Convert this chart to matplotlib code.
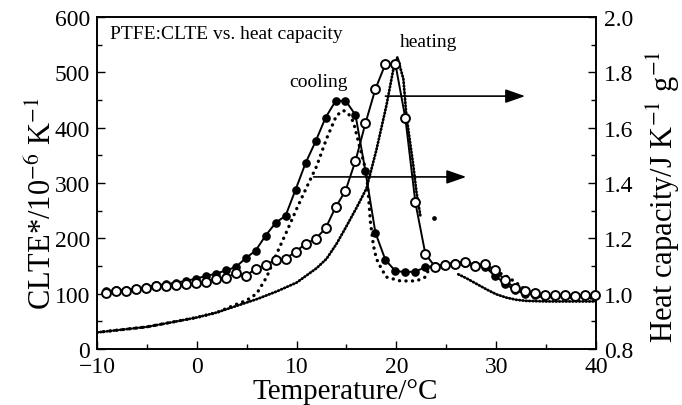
import matplotlib
matplotlib.use("Agg")
import matplotlib.pyplot as plt
import numpy as np

plt.rcParams["font.family"] = ["Liberation Serif", "DejaVu Serif"]
plt.rcParams["mathtext.fontset"] = "stix"

# ---- CLTE* (10^-6 K^-1), dilatometer points ----
temp_cool = [-9.1, -8.1, -7.1, -6.1, -5.1, -4.1, -3.1, -2.1, -1.1, -0.1,
             0.9, 1.9, 2.9, 3.9, 4.9, 5.9, 6.9, 7.9, 8.9, 9.9,
             10.9, 11.9, 12.9, 13.9, 14.9, 15.9, 16.9, 17.9, 18.9, 19.9,
             20.9, 21.9, 22.9, 23.9, 24.9, 25.9, 26.9, 27.9, 28.9, 29.9,
             30.9, 31.9, 32.9, 33.9, 34.9, 35.9, 36.9, 37.9, 38.9, 39.9]
clte_cool = [105, 106, 107, 109, 112, 115, 117, 120, 123, 127,
             132, 136, 142, 148, 164, 178, 205, 228, 241, 288,
             336, 375, 418, 448, 449, 423, 321, 210, 161, 141,
             139, 140, 148, 150, 153, 155, 156, 152, 148, 132,
             118, 106, 100, 98, 97, 97, 97, 96, 97, 97]

temp_heat = [-9.1, -8.1, -7.1, -6.1, -5.1, -4.1, -3.1, -2.1, -1.1, -0.1,
             0.9, 1.9, 2.9, 3.9, 4.9, 5.9, 6.9, 7.9, 8.9, 9.9,
             10.9, 11.9, 12.9, 13.9, 14.9, 15.9, 16.9, 17.9, 18.9, 19.9,
             20.9, 21.9, 22.9, 23.9, 24.9, 25.9, 26.9, 27.9, 28.9, 29.9,
             30.9, 31.9, 32.9, 33.9, 34.9, 35.9, 36.9, 37.9, 38.9, 39.9]
clte_heat = [102, 104, 105, 108, 111, 113, 114, 115, 117, 119,
             121, 126, 129, 137, 132, 145, 152, 161, 163, 176,
             190, 199, 218, 256, 286, 340, 408, 470, 515, 515,
             417, 265, 172, 148, 152, 154, 158, 150, 154, 142,
             124, 110, 104, 101, 98, 98, 98, 96, 98, 98]

# ---- heat capacity (J K^-1 g^-1), DSC traces ----
temp_cp_cool = [-10, -5, 0, 2, 4, 5, 6, 7, 8, 9, 10, 11, 12, 13, 14, 14.7,
                15.2, 15.7, 16.3, 17.0, 17.2, 17.4, 17.7, 18.0, 18.5, 19.0,
                20.4, 22.0, 22.9, 23.2, 23.6, 25, 27, 28, 29, 30, 31, 32,
                33, 33.5, 35, 40]
cp_cool = [0.860, 0.880, 0.914, 0.932, 0.962, 0.976, 1.000, 1.060, 1.144,
           1.224, 1.306, 1.384, 1.460, 1.560, 1.644, 1.662,
           1.650, 1.620, 1.534, 1.438, 1.354, 1.258, 1.174, 1.126, 1.090,
           1.060, 1.046, 1.046, 1.060, 1.084, 1.100, 1.106, 1.110, 1.106,
           1.096, 1.080, 1.064, 1.040, 1.012, 0.994, 0.986, 0.984]

temp_cp_heat = [-10, -7, -5, -2, 0, 2, 4, 6, 8, 10, 12, 13, 14, 15, 16, 17,
                18, 19, 19.7, 20.1, 20.7, 21.0, 21.7, 22.0, 22.4]
cp_heat = [0.860, 0.872, 0.880, 0.900, 0.914, 0.932, 0.956, 0.980, 1.008,
           1.040, 1.092, 1.126, 1.180, 1.244, 1.310, 1.380, 1.520, 1.680,
           1.812, 1.854, 1.776, 1.644, 1.462, 1.370, 1.282]
temp_cp_heat_stray = [23.8]
cp_heat_stray = [1.272]
temp_cp_heat2 = [26.2, 27, 28, 29, 30, 31, 32, 33, 35, 40]
cp_heat2 = [1.070, 1.056, 1.036, 1.016, 0.998, 0.986, 0.978, 0.974, 0.972,
            0.972]

fig = plt.figure(figsize=(6.82, 4.06), dpi=100)
ax = fig.add_axes([0.1422, 0.1379, 0.7317, 0.8178])
ax2 = ax.twinx()

# heat capacity traces (dotted)
heat_style = dict(color="black", lw=2.0, linestyle=(0, (0.3, 0.9)),
                  dash_capstyle="round")
ax2.plot(temp_cp_heat, cp_heat, **heat_style)
ax2.plot(temp_cp_heat2, cp_heat2, **heat_style)
ax2.plot(temp_cp_heat_stray, cp_heat_stray, "o", color="black", ms=2.4)
ax2.plot(temp_cp_cool, cp_cool, color="black", lw=2.4,
         linestyle=(0, (0.05, 1.9)), dash_capstyle="round")

# CLTE* curves
ax.plot(temp_cool, clte_cool, "-o", color="black", lw=1.4, ms=5.2,
        mfc="black", mec="black", zorder=3)
ax.plot(temp_heat, clte_heat, "-o", color="black", lw=1.4, ms=6.4,
        mfc="white", mec="black", mew=1.4, zorder=4, clip_on=False)

ax.set_zorder(ax2.get_zorder() + 1)
ax.patch.set_visible(False)

ax.set_xlim(-10, 40)
ax.set_ylim(0, 600)
ax2.set_ylim(0.8, 2.0)

ax.set_xticks(np.arange(-10, 41, 10))
ax.set_xticks(np.arange(-10, 41, 5), minor=True)
ax.set_yticks(np.arange(0, 601, 100))
ax.set_yticks(np.arange(0, 601, 50), minor=True)
ax2.set_yticks(np.arange(0.8, 2.01, 0.2))
ax2.set_yticks(np.arange(0.8, 2.01, 0.1), minor=True)
ax2.set_yticklabels(["0.8", "1.0", "1.2", "1.4", "1.6", "1.8", "2.0"])

for a in (ax, ax2):
    a.tick_params(which="major", direction="in", length=6, width=1.0,
                  labelsize=17)
    a.tick_params(which="minor", direction="in", length=3.5, width=1.0)
    for s in a.spines.values():
        s.set_linewidth(1.2)
ax.tick_params(axis="y", right=False, pad=5)
ax.tick_params(axis="x", top=False, pad=5)
ax2.tick_params(axis="y", pad=6)

ax.set_xlabel("Temperature/°C", fontsize=21)
ax.set_ylabel(r"CLTE*/10$^{-6}$ K$^{-1}$", fontsize=22)
ax2.set_ylabel(r"Heat capacity/J K$^{-1}$ g$^{-1}$", fontsize=22)
ax.xaxis.set_label_coords(0.497, -0.088)
ax.yaxis.set_label_coords(-0.078, 0.44)
ax2.yaxis.set_label_coords(1.097, 0.46)

ax.text(0.026, 0.95, "PTFE:CLTE vs. heat capacity", transform=ax.transAxes,
        fontsize=14, ha="left", va="center")
ax.text(12.2, 484, "cooling", fontsize=14, ha="center", va="center")
ax.text(23.2, 555, "heating", fontsize=14, ha="center", va="center")

arrow = dict(arrowstyle="-|>,head_length=1.0,head_width=0.35",
             color="black", lw=1.2, shrinkA=0, shrinkB=0, mutation_scale=12)
ax.annotate("", xy=(27.0, 311), xytext=(11.7, 311), arrowprops=arrow)
ax.annotate("", xy=(32.9, 457), xytext=(18.9, 457), arrowprops=arrow)

fig.savefig("out.png", dpi=100)
